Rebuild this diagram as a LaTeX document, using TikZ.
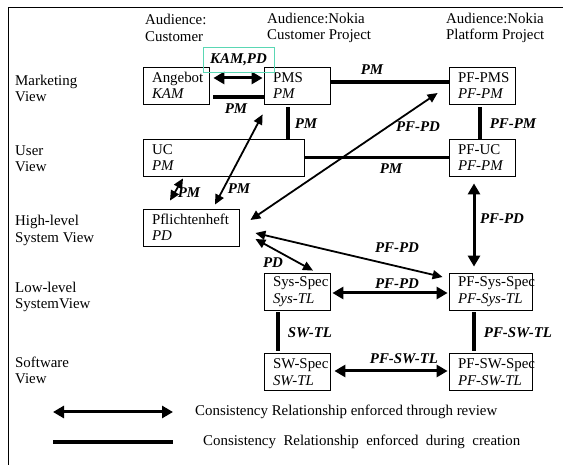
\documentclass[tikz,border=0pt]{standalone}
\usepackage{fontspec}
\setmainfont{Liberation Serif}
\usetikzlibrary{arrows.meta,calc}
\definecolor{markteal}{RGB}{90,215,180}
\exhyphenpenalty=10000
\hyphenpenalty=10000
\newcommand{\diagfont}{\fontsize{14.9}{16.5}\selectfont}

\tikzset{
  viewbox/.style={draw, line width=0.8pt, minimum height=37pt, inner xsep=9pt,
    inner ysep=0pt, align=left, text width=#1},
  rowtxt/.style={anchor=west, align=left, inner sep=0pt},
  lbl/.style={font=\diagfont\bfseries\itshape, inner sep=0pt},
  review/.style={line width=3pt, {Triangle[length=11pt,width=12pt]}-{Triangle[length=11pt,width=12pt]}},
  thinreview/.style={line width=1.8pt, {Triangle[length=10pt,width=9pt]}-{Triangle[length=10pt,width=9pt]}},
  create/.style={line width=3.6pt}
}

\begin{document}
\begin{tikzpicture}[x=1pt, y=-1pt, font=\diagfont]
\useasboundingbox (0,0) rectangle (563,465);
% frame (left and top only)
\draw[line width=0.8pt] (8,465) -- (8,7) -- (563,7);

% audiences
\node[rowtxt] (hcust) at (145,28) {Audience:\\Customer};
\node[rowtxt] (hnokcp) at (267,28) {Audience:Nokia\\Customer Project};
\node[rowtxt] (hnokpf) at (446,28) {Audience:Nokia\\Platform Project};

% views
\foreach \nm/\y/\txt in {vmark/88.5/{Marketing\\View}, vuser/158.5/{User\\View},
    vhigh/230.5/{High-level\\System View}, vlow/297/{Low-level\\SystemView},
    vsw/370.5/{Software\\View}}
  \node[rowtxt] (\nm) at (15,\y) {\txt};

% documents
\node[viewbox=48pt] (angebot) at (176,85.5) {Angebot\\\textit{KAM}};
\node[viewbox=48pt] (pms) at (297,85.5) {PMS\\\textit{PM}};
\node[viewbox=48pt] (pfpms) at (482,85.5) {PF-PMS\\\textit{PF-PM}};
\node[viewbox=143pt] (uc) at (223.5,157.5) {UC\\\textit{PM}};
\node[viewbox=48pt] (pfuc) at (482,157.5) {PF-UC\\\textit{PF-PM}};
\node[viewbox=78pt] (pflicht) at (191,227.5) {Pflichtenheft\\\textit{PD}};
\node[viewbox=48pt] (sysspec) at (297,291.5) {Sys-Spec\\\textit{Sys-TL}};
\node[viewbox=65pt] (pfsysspec) at (490.5,291.5) {PF-Sys-Spec\\\textit{PF-Sys-TL}};
\node[viewbox=48pt] (swspec) at (297,372) {SW-Spec\\\textit{SW-TL}};
\node[viewbox=65pt] (pfswspec) at (490.5,372) {PF-SW-Spec\\\textit{PF-SW-TL}};

% relationships
\draw[review] ($(angebot.east)+(4,-7.5)$) -- ($(pms.west)+(-1,-7.5)$);
\node[lbl, draw=markteal, line width=0.8pt, minimum width=71pt, minimum height=25pt] (lkampd) at (238.5,59.5) {KAM,PD};
\draw[create] ($(angebot.east)+(4,11.5)$) -- ($(pms.west)+(0,11.5)$);
\node[lbl] (lpm1) at (236,109) {PM};
\draw[create] ($(pms.east)+(0,-3.5)$) -- ($(pfpms.west)+(0,-3.5)$);
\node[lbl] (lpm2) at (372,70) {PM};
\draw[create] ($(pms.south)+(-9,3)$) -- ($(pms.south |- uc.north)+(-9,0)$);
\node[lbl] (lpm3) at (306,124) {PM};
\draw[create] ($(pfpms.south)+(-2,3)$) -- ($(pfpms.south |- pfuc.north)+(-2,0)$);
\node[lbl] (lpfpm) at (513,124) {PF-PM};
\draw[create] (uc.east) -- (pfuc.west);
\node[lbl] (lpm4) at (391,169) {PM};
\draw[review] ($(pfuc.south)+(-8,7)$) -- ($(pfuc.south |- pfsysspec.north)+(-8,-6)$);
\node[lbl] (lpfpd1) at (502,219) {PF-PD};
\draw[thinreview] ($(pflicht.east)+(11,-7.5)$) -- ($(pfpms.west)+(-11,7.5)$);
\node[lbl] (lpfpd2) at (418,127) {PF-PD};
\draw[thinreview] ($(pms.south west)+(-1,10)$) -- ($(pflicht.north)+(24,-4)$);
\node[lbl] (lpm5) at (239,189) {PM};
\draw[thinreview] ($(uc.south)+(-40.5,2)$) -- ($(pflicht.north)+(-21,-8)$);
\node[lbl] (lpm6) at (189,193) {PM};
\draw[thinreview] ($(pflicht.east)+(16,5.5)$) -- ($(pfsysspec.west)+(-6,-14.5)$);
\node[lbl] (lpfpd3) at (397,248) {PF-PD};
\draw[thinreview] ($(pflicht.east)+(16,11.5)$) -- ($(sysspec.north)+(16,-2)$);
\node[lbl] (lpd) at (273,263) {PD};
\draw[review] ($(sysspec.east)+(2,1.5)$) -- ($(pfsysspec.west)+(-1,1.5)$);
\node[lbl] (lpfpd4) at (397,284) {PF-PD};
\draw[create] ($(sysspec.south)+(-19,2)$) -- ($(sysspec.south |- swspec.north)+(-19,-2)$);
\node[lbl] (lswtl) at (310,333) {SW-TL};
\draw[create] ($(pfsysspec.south)+(-16.5,2)$) -- ($(pfsysspec.south |- pfswspec.north)+(-16.5,-2)$);
\node[lbl] (lpfswtl1) at (518,333) {PF-SW-TL};
\draw[review] ($(swspec.east)+(4,-1)$) -- ($(pfswspec.west)+(-1,-1)$);
\node[lbl] (lpfswtl2) at (404,359) {PF-SW-TL};

% legend
\coordinate (leg1a) at (53,412);
\coordinate (leg1b) at (173,412);
\draw[review] (leg1a) -- (leg1b);
\node[rowtxt] (leg1) at (195,412) {Consistency Relationship enforced through review};
\coordinate (leg2a) at (53,442);
\coordinate (leg2b) at (173,442);
\draw[create] (leg2a) -- (leg2b);
\node[rowtxt] (leg2) at (203,442) {\spaceskip=7.5pt Consistency Relationship enforced during creation};
\end{tikzpicture}
\end{document}
